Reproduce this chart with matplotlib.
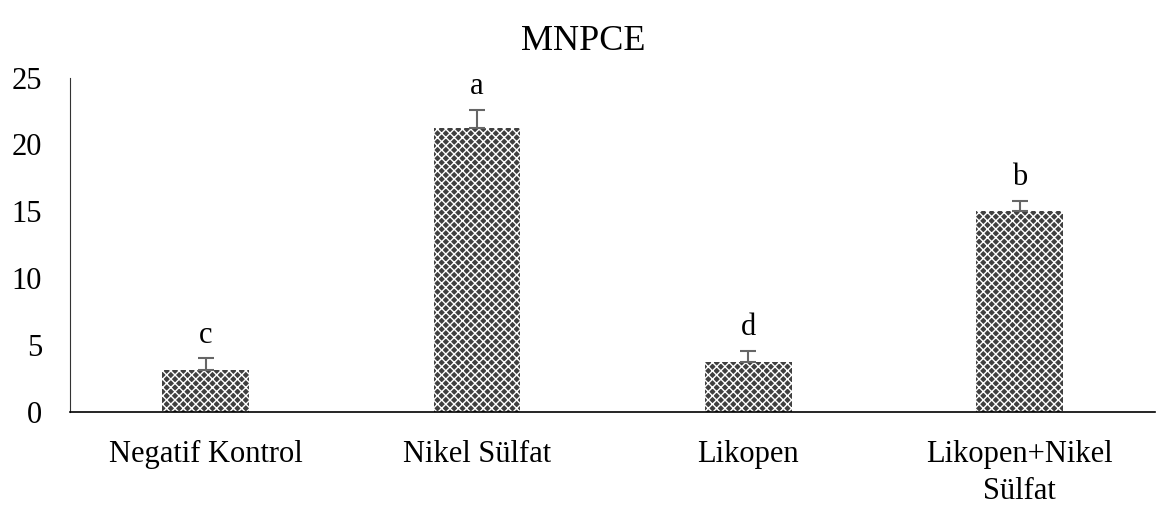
import matplotlib.pyplot as plt
import numpy as np

plt.rcParams['font.family'] = ['Liberation Serif', 'DejaVu Serif']
plt.rcParams['hatch.linewidth'] = 1.0

groups = ['Negatif Kontrol', 'Nikel Sülfat', 'Likopen', 'Likopen+Nikel\nSülfat']
means = [3.15, 21.2, 3.75, 15.0]
errs = [0.9, 1.4, 0.85, 0.8]
letters = ['c', 'a', 'd', 'b']

fig = plt.figure(figsize=(11.67, 5.07), dpi=100)
ax = fig.add_axes([0.06, 0.187, 0.93, 0.66])

x = np.arange(len(groups))
bars = ax.bar(x, means, width=0.32, color='#404040', edgecolor='white', hatch='xxxx', linewidth=0)
ax.errorbar(x, means, yerr=[np.zeros(len(errs)), errs], fmt='none', ecolor='#666666',
            elinewidth=1.5, capsize=6, capthick=1.5)

for xi, m, e, lt in zip(x, means, errs, letters):
    ax.annotate(lt, (xi, m + e), xytext=(0, 6), textcoords='offset points',
                ha='center', va='bottom', fontsize=22)

ax.set_xlim(-0.5, 3.5)
ax.set_ylim(0, 25)
ax.set_yticks([0, 5, 10, 15, 20, 25])
ax.set_xticks(x)
ax.set_xticklabels(groups, fontsize=22, linespacing=1.35)
ax.tick_params(axis='y', labelsize=22, length=0, pad=20)
ax.tick_params(axis='x', length=0, pad=20)
for s in ['top', 'right']:
    ax.spines[s].set_visible(False)
ax.spines['left'].set_color('#333333')
ax.spines['bottom'].set_color('black')
ax.spines['bottom'].set_linewidth(1.2)

fig.suptitle('MNPCE', fontsize=26, y=0.95)

plt.savefig('out.png')
